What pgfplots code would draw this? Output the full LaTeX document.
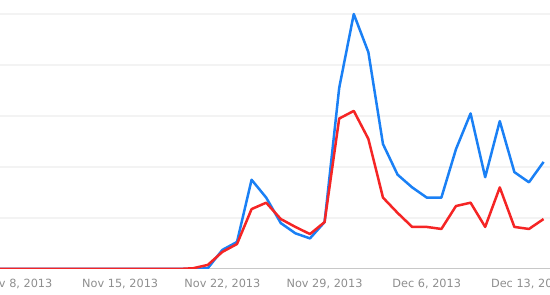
\documentclass[border=0pt]{standalone}
\usepackage{pgfplots}
\pgfplotsset{compat=1.18}
\usepackage{fontspec}
\setmainfont{DejaVu Sans}
\definecolor{gblue}{HTML}{1A80F5}
\definecolor{gred}{HTML}{F52525}
\definecolor{gridc}{HTML}{F3F3F3}
\definecolor{basec}{HTML}{C8C8C8}
\definecolor{labc}{HTML}{8E8E8E}
\pgfplotstableread{
d blue red
-2 0 0
-1 0 0
0 0 0
1 0 0
2 0 0
3 0 0
4 0 0
5 0 0
6 0 0
7 0 0
8 0 0
9 0 0
10 0 0
11 0 0
12 0 0.3
13 0.3 1.6
14 7.5 6.7
15 10.6 9.8
16 35 23.5
17 28 26
18 18 19.6
19 14 16.5
20 12 13.7
21 18.4 18.4
22 71 59
23 100 62
24 85 51
25 49 28
26 37 22
27 32 16.5
28 28 16.5
29 28 15.7
30 47 24.7
31 61 26
32 36 16.5
33 58 32
34 38 16.5
35 34 15.7
36 42 19.6
}\trends
\begin{document}
\begin{tikzpicture}
\begin{axis}[
  at={(0,0)}, anchor=south west,
  scale only axis, width=550pt, height=269pt,
  xmin=-1.233, xmax=36.44, ymin=0, ymax=105.5,
  axis line style={draw=none},
  major tick length=0pt,
  ytick={20,40,60,80,100}, yticklabels={},
  ymajorgrids, major grid style={gridc, line width=1.6pt},
  xtick={0,7,14,21,28,35},
  xticklabels={{Nov 8, 2013},{Nov 15, 2013},{Nov 22, 2013},{Nov 29, 2013},{Dec 6, 2013},{Dec 13, 2013}},
  xticklabel style={font=\fontsize{11.3}{13}\selectfont, text=labc, anchor=base, yshift=-19pt},
  clip=true,
]
\addplot[basec, line width=2.2pt, forget plot] coordinates {(-3,0) (40,0)};
\addplot[gblue, line width=2.5pt, line join=round] table[x=d, y=blue] {\trends};
\addplot[gred, line width=2.5pt, line join=round] table[x=d, y=red] {\trends};
\end{axis}
\pgfresetboundingbox
\useasboundingbox (0,-26pt) rectangle (550pt,269pt);
\end{tikzpicture}
\end{document}
